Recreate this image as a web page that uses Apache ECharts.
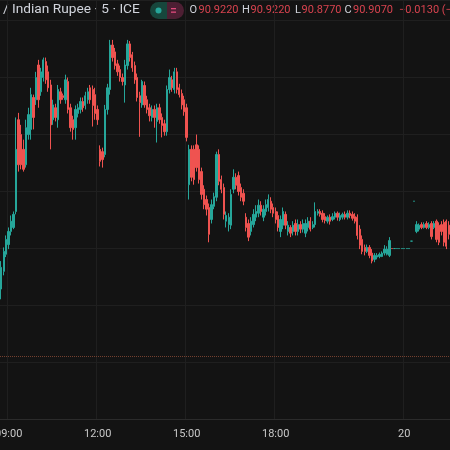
<!DOCTYPE html>
<html>
<head>
<meta charset="utf-8">
<script src="https://cdn.jsdelivr.net/npm/echarts@6/dist/echarts.min.js"></script>
<style>
html,body{margin:0;padding:0;background:#131313;}
#chart{width:450px;height:450px;}
</style>
</head>
<body>
<div id="chart"></div>
<script>
// ---- data (5-minute candles, USD/INR) ----
const opens = [
90.828,90.859,90.889,90.906,90.929,90.936,90.964,91.125,91.099,91.073,
91.046,91.099,91.108,91.164,91.160,91.221,91.174,91.199,91.227,91.209,
91.186,91.125,91.146,91.125,91.174,91.167,91.160,91.192,91.146,91.125,
91.111,91.136,91.143,91.157,91.150,91.160,91.181,91.178,91.169,91.143,
91.073,91.069,91.064,91.143,91.178,91.256,91.244,91.223,91.213,91.199,
91.186,91.220,91.258,91.239,91.220,91.199,91.167,91.151,91.185,91.160,
91.146,91.129,91.143,91.122,91.146,91.129,91.118,91.104,91.178,91.195,
91.178,91.209,91.181,91.171,91.160,91.146,91.011,91.073,91.073,91.081,
91.073,91.034,91.003,90.985,90.971,90.950,90.973,90.989,91.064,91.020,
91.006,90.947,90.941,90.940,91.003,91.024,91.027,91.006,90.996,90.954,
90.943,90.929,90.941,90.954,90.961,90.975,90.954,90.964,90.971,90.982,
90.971,90.964,90.957,90.929,90.940,90.959,90.929,90.936,90.929,90.943,
90.929,90.941,90.933,90.926,90.936,90.947,90.936,90.941,90.961,90.964,
90.961,90.955,90.947,90.954,90.950,90.954,90.961,90.950,90.954,90.959,
90.954,90.961,90.959,90.955,90.954,90.933,90.915,90.901,90.894,90.901,
90.891,90.880,90.884,90.885,90.885,90.891,90.889,90.887,90.899,90.899,
90.899,90.899,90.899,90.899,90.899,90.899,90.912,90.982,90.929,90.933,
90.941,90.936,90.943,90.936,90.943,90.936,90.947,90.940,90.941,90.945,
90.947,90.940
];
const closes = [
90.866,90.894,90.915,90.929,90.947,90.959,91.073,91.046,91.046,91.038,
91.111,91.134,91.169,91.129,91.199,91.160,91.209,91.230,91.195,91.181,
91.116,91.151,91.129,91.178,91.160,91.164,91.195,91.143,91.111,91.108,
91.143,91.146,91.157,91.146,91.167,91.174,91.160,91.150,91.136,91.125,
91.052,91.055,91.143,91.181,91.256,91.234,91.220,91.209,91.199,91.192,
91.221,91.258,91.234,91.216,91.195,91.164,91.155,91.192,91.151,91.143,
91.132,91.143,91.129,91.146,91.125,91.115,91.104,91.178,91.199,91.181,
91.209,91.178,91.169,91.151,91.139,91.094,91.073,91.024,91.020,91.041,
91.020,90.994,90.976,90.968,90.924,90.976,90.990,91.064,91.017,91.003,
90.959,90.957,90.954,90.994,91.024,91.010,90.999,90.989,90.982,90.936,
90.919,90.947,90.959,90.964,90.975,90.964,90.968,90.976,90.985,90.968,
90.961,90.950,90.936,90.950,90.964,90.940,90.940,90.926,90.940,90.929,
90.941,90.933,90.943,90.943,90.947,90.933,90.941,90.964,90.964,90.959,
90.950,90.948,90.954,90.947,90.955,90.961,90.954,90.957,90.959,90.954,
90.961,90.957,90.952,90.947,90.922,90.905,90.894,90.894,90.901,90.887,
90.877,90.887,90.887,90.889,90.891,90.898,90.898,90.913,90.899,90.899,
90.899,90.899,90.899,90.899,90.899,90.899,90.912,90.982,90.941,90.940,
90.936,90.941,90.936,90.941,90.920,90.943,90.915,90.910,90.929,90.910,
90.903,90.924
];
const lows = [
90.810,90.852,90.884,90.898,90.922,90.933,90.959,91.034,91.038,91.034,
91.041,91.090,91.090,91.108,91.151,91.146,91.167,91.192,91.188,91.174,
91.073,91.116,91.122,91.111,91.153,91.160,91.153,91.136,91.104,91.090,
91.090,91.129,91.136,91.139,91.143,91.153,91.153,91.113,91.125,91.116,
91.043,91.041,91.059,91.134,91.169,91.227,91.213,91.202,91.192,91.185,
91.155,91.213,91.227,91.209,91.188,91.157,91.095,91.146,91.146,91.136,
91.122,91.122,91.111,91.085,91.118,91.094,91.097,91.097,91.171,91.174,
91.171,91.171,91.164,91.143,91.132,91.087,90.985,91.017,91.011,91.034,
91.013,90.985,90.968,90.957,90.910,90.943,90.968,90.982,91.010,90.996,
90.950,90.936,90.929,90.933,90.996,91.003,90.992,90.982,90.975,90.929,
90.912,90.922,90.936,90.947,90.954,90.957,90.947,90.957,90.964,90.961,
90.954,90.943,90.929,90.919,90.933,90.933,90.922,90.919,90.922,90.922,
90.922,90.926,90.927,90.919,90.929,90.929,90.933,90.936,90.957,90.955,
90.945,90.943,90.943,90.941,90.947,90.950,90.948,90.947,90.950,90.950,
90.950,90.952,90.948,90.943,90.915,90.898,90.889,90.887,90.891,90.882,
90.873,90.875,90.880,90.882,90.884,90.887,90.887,90.884,90.899,90.899,
90.899,90.899,90.899,90.899,90.899,90.899,90.912,90.982,90.926,90.929,
90.933,90.934,90.933,90.933,90.915,90.933,90.910,90.905,90.922,90.903,
90.898,90.915
];
const highs = [
90.877,90.901,90.922,90.936,90.957,90.964,91.129,91.137,91.116,91.090,
91.125,91.146,91.181,91.169,91.209,91.230,91.216,91.234,91.234,91.220,
91.195,91.160,91.153,91.186,91.181,91.171,91.204,91.199,91.153,91.132,
91.150,91.153,91.164,91.164,91.174,91.181,91.186,91.185,91.181,91.150,
91.080,91.076,91.151,91.188,91.265,91.265,91.251,91.230,91.220,91.206,
91.230,91.265,91.263,91.244,91.227,91.206,91.174,91.195,91.192,91.167,
91.153,91.150,91.150,91.153,91.153,91.136,91.125,91.185,91.213,91.202,
91.216,91.216,91.188,91.178,91.167,91.153,91.081,91.080,91.080,91.099,
91.080,91.041,91.010,90.992,90.978,90.985,90.997,91.069,91.073,91.027,
91.013,90.964,90.961,91.003,91.038,91.031,91.034,91.013,91.003,90.961,
90.950,90.954,90.968,90.975,90.985,90.982,90.975,90.985,90.994,90.989,
90.978,90.971,90.964,90.957,90.971,90.964,90.947,90.940,90.947,90.950,
90.950,90.947,90.950,90.950,90.954,90.954,90.947,90.980,90.968,90.968,
90.966,90.961,90.957,90.959,90.961,90.964,90.964,90.962,90.962,90.964,
90.966,90.966,90.964,90.961,90.959,90.940,90.922,90.906,90.906,90.905,
90.898,90.891,90.891,90.892,90.894,90.905,90.903,90.919,90.899,90.899,
90.899,90.899,90.899,90.899,90.899,90.899,90.912,90.982,90.947,90.943,
90.945,90.945,90.947,90.945,90.947,90.947,90.950,90.945,90.947,90.950,
90.950,90.947
];

// time categories: 5-minute bars from 08:45, evening gap resumes at 23:40
const sessionStart = '08:45';
const resumeIndex = 159;
const resumeTime = '23:40';
const tickTimes = ['09:00', '12:00', '15:00', '18:00', '00:00'];
const tickTexts = ['09:00', '12:00', '15:00', '18:00', '20'];
const refLinePrice = 90.712;

// header texts
const titleText = '/ Indian Rupee · 5 · ICE';
const ohlcLabels = ['O', 'H', 'L', 'C'];
const ohlcValues = ['90.9220', '90.9220', '90.8770', '90.9070'];
const changeText = '\u22120.0130 (\u2212';

function toMin(s){ const p = s.split(':'); return (+p[0])*60 + (+p[1]); }
function fmt(m){ m = ((m % 1440) + 1440) % 1440; const h = Math.floor(m/60), mm = m % 60; return (h<10?'0':'')+h+':'+(mm<10?'0':'')+mm; }
const categories = opens.map((_, i) => i < resumeIndex
  ? fmt(toMin(sessionStart) + 5*i)
  : fmt(toMin(resumeTime) + 5*(i - resumeIndex)));

const candleData = opens.map((o, i) => [o, closes[i], lows[i], highs[i]]);

const isTick = (idx, val) => tickTimes.indexOf(val) >= 0;

const headerFont = 'Roboto, "Liberation Sans", sans-serif';
const upColor = '#26a69a', downColor = '#ef5350';
const valueColor = '#d8434f';
const letterColor = '#d1d4dc';

const ohlcX = [189.5, 242, 295, 344.5];
const ohlcValX = [198.5, 250.5, 301.5, 353];
const graphics = [
  { type: 'text', x: 3, y: 10, style: { text: titleText, fill: letterColor, font: '13.7px ' + headerFont, verticalAlign: 'middle' } },
  { type: 'rect', shape: { x: 150, y: 2, width: 17, height: 17, r: [8.5, 0, 0, 8.5] }, style: { fill: '#17463c' } },
  { type: 'rect', shape: { x: 167, y: 2, width: 17, height: 17, r: [0, 8.5, 8.5, 0] }, style: { fill: '#4d1f33' } },
  { type: 'circle', shape: { cx: 158.5, cy: 10.5, r: 3 }, style: { fill: upColor } },
  { type: 'rect', shape: { x: 171, y: 8, width: 5, height: 1.3 }, style: { fill: '#e04a7c' } },
  { type: 'rect', shape: { x: 171, y: 11.5, width: 5, height: 1.3 }, style: { fill: '#e04a7c' } }
];
ohlcLabels.forEach((l, k) => {
  graphics.push({ type: 'text', x: ohlcX[k], y: 10, style: { text: l, fill: letterColor, font: '11px ' + headerFont, verticalAlign: 'middle' } });
  graphics.push({ type: 'text', x: ohlcValX[k], y: 10, style: { text: ohlcValues[k], fill: valueColor, font: '11px ' + headerFont, verticalAlign: 'middle' } });
});
graphics.push({ type: 'text', x: 399, y: 10, style: { text: changeText, fill: valueColor, font: '11px ' + headerFont, verticalAlign: 'middle' } });

const chart = echarts.init(document.getElementById('chart'), null, { renderer: 'canvas' });
chart.setOption({
  backgroundColor: '#131313',
  animation: false,
  grid: { left: 0, right: 0, top: 0, bottom: 31, containLabel: false, outerBoundsMode: 'none' },
  xAxis: {
    type: 'category',
    data: categories,
    boundaryGap: true,
    axisLine: { show: true, lineStyle: { color: '#2b2b2b' } },
    axisTick: { show: false },
    axisLabel: {
      interval: isTick,
      formatter: v => tickTexts[tickTimes.indexOf(v)],
      color: '#c8c8c8', fontSize: 11, margin: 10, fontFamily: headerFont
    },
    splitLine: { show: true, interval: isTick, lineStyle: { color: '#1f1f1f', width: 1 } }
  },
  yAxis: {
    type: 'value',
    position: 'right',
    min: 90.6, max: 91.335, interval: 0.1,
    axisLabel: { show: false }, axisLine: { show: false }, axisTick: { show: false },
    splitLine: { show: true, lineStyle: { color: '#1f1f1f', width: 1 } }
  },
  series: [{
    type: 'candlestick',
    data: candleData,
    barWidth: '75%',
    itemStyle: { color: upColor, color0: downColor, borderColor: upColor, borderColor0: downColor, borderWidth: 1 },
    markLine: {
      silent: true, animation: false,
      symbol: ['none', 'none'],
      label: { show: false },
      lineStyle: { color: '#74402f', type: 'dotted', width: 1 },
      data: [{ yAxis: refLinePrice }]
    }
  }],
  graphic: graphics
});
</script>
</body>
</html>
